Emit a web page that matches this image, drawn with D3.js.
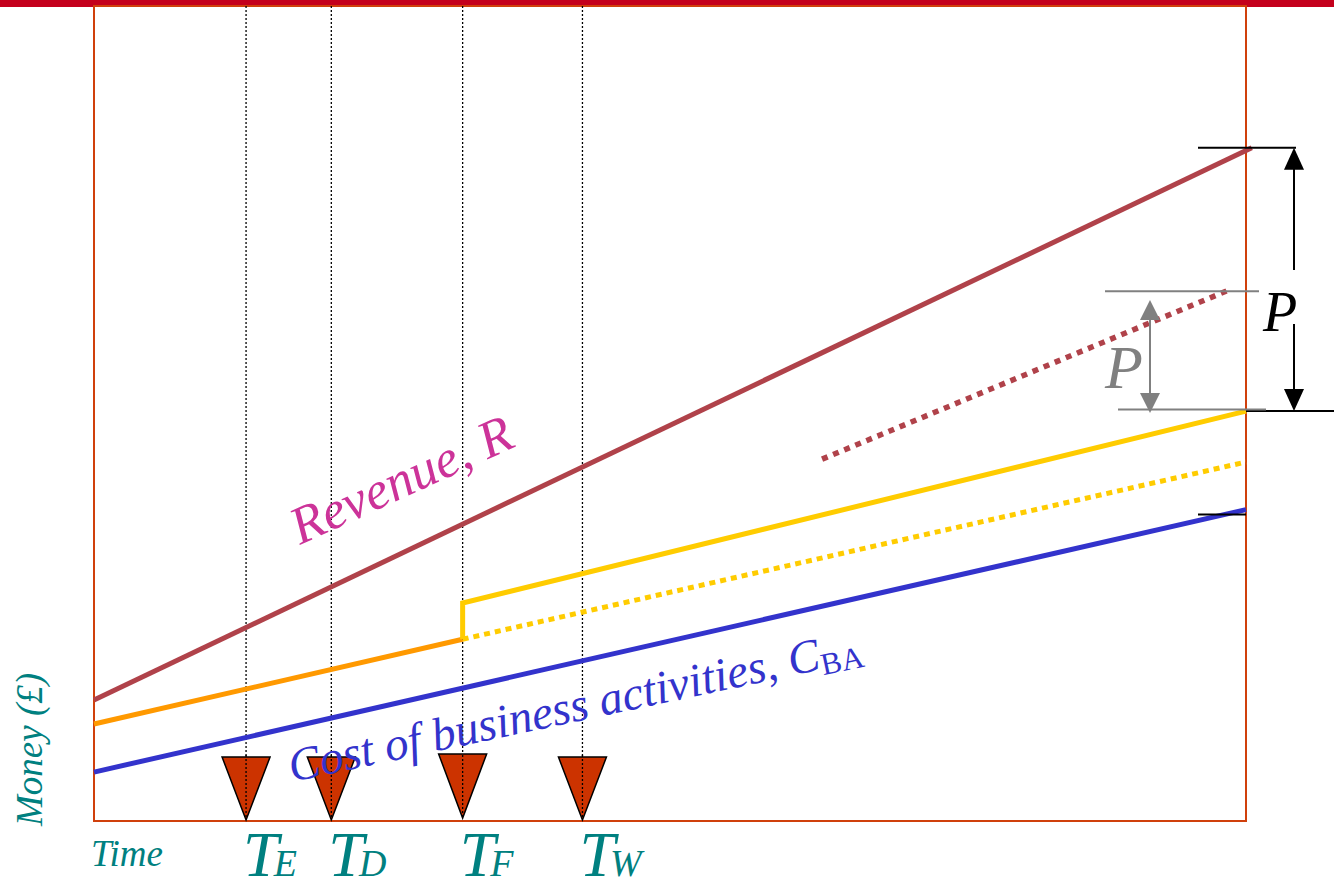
<!DOCTYPE html>
<html><head><meta charset="utf-8">
<script src="https://cdn.jsdelivr.net/npm/d3@7"></script>
<style>html,body{margin:0;padding:0;background:#fff;} svg{display:block;}</style>
</head><body><svg id="c" width="1334" height="881"></svg>
<script>
// ---- data (time 0..100, money 0..100) ----
const revenue      = [[0, 14.85], [100.5, 82.6]];
const revenueNew   = [[63.2, 44.4], [98.6, 65.2]];
const costBefore   = [[0, 11.9], [32.0, 22.3]];
const costAfter    = [[32.0, 22.3], [32.0, 26.75], [100, 50.3]];
const costAfterAlt = [[32.0, 22.3], [100, 44.05]];
const costBA       = [[0, 6.0], [100, 38.2]];
const eventNames   = ["E", "D", "F", "W"];
const eventTimes   = [13.2, 20.6, 32.0, 42.4];
const pBig   = [82.6, 50.3];
const pSmall = [65.0, 50.5];
const lowMark = 37.6;

const svg = d3.select("#c");
const x = d3.scaleLinear().domain([0, 100]).range([94, 1246]);
const y = d3.scaleLinear().domain([0, 100]).range([821, 6]);
const line = d3.line().x(d => x(d[0])).y(d => y(d[1]));
const serif = "'Liberation Serif', 'Times New Roman', serif";
const teal = "#008080";

// top bar
svg.append("rect").attr("x", 0).attr("y", 0).attr("width", 1334).attr("height", 7).attr("fill", "#c4001c");
// frame
svg.append("rect").attr("x", x(0)).attr("y", y(100)).attr("width", x(100) - x(0)).attr("height", y(0) - y(100))
  .attr("fill", "none").attr("stroke", "#d0400c").attr("stroke-width", 2);

// vertical dotted event lines
svg.selectAll(".ev").data(eventTimes).join("line")
  .attr("x1", d => x(d)).attr("x2", d => x(d)).attr("y1", y(100)).attr("y2", y(0) - 3)
  .attr("stroke", "#000").attr("stroke-width", 1.3).attr("stroke-dasharray", "2,2");

// series
svg.append("path").attr("d", line(revenue)).attr("fill", "none").attr("stroke", "#b0424a").attr("stroke-width", 5);
svg.append("path").attr("d", line(revenueNew)).attr("fill", "none").attr("stroke", "#b0424a").attr("stroke-width", 5.5).attr("stroke-dasharray", "6,6");
svg.append("path").attr("d", line(costAfterAlt)).attr("fill", "none").attr("stroke", "#ffcc00").attr("stroke-width", 5).attr("stroke-dasharray", "6,5");
svg.append("path").attr("d", line(costBA)).attr("fill", "none").attr("stroke", "#3333cc").attr("stroke-width", 5);
svg.append("path").attr("d", line(costBefore)).attr("fill", "none").attr("stroke", "#ff9900").attr("stroke-width", 5);
svg.append("path").attr("d", line(costAfter)).attr("fill", "none").attr("stroke", "#ffcc00").attr("stroke-width", 5);

// markers (P)
function hline(x1, x2, yy, color) {
  svg.append("line").attr("x1", x1).attr("x2", x2).attr("y1", yy).attr("y2", yy).attr("stroke", color).attr("stroke-width", 2);
}
function arrowHead(cx, tipY, dir, color, len, w) {
  svg.append("path").attr("d", `M${cx},${tipY} L${cx - w / 2},${tipY + dir * len} L${cx + w / 2},${tipY + dir * len} Z`).attr("fill", color);
}
// black P
hline(1198, 1296, y(pBig[0]), "#000");
hline(x(100), 1334, y(pBig[1]), "#000");
hline(1198, x(100), y(lowMark), "#000");
svg.append("line").attr("x1", 1294).attr("x2", 1294).attr("y1", y(pBig[0]) + 10).attr("y2", 270).attr("stroke", "#000").attr("stroke-width", 2);
svg.append("line").attr("x1", 1294).attr("x2", 1294).attr("y1", 324).attr("y2", y(pBig[1]) - 10).attr("stroke", "#000").attr("stroke-width", 2);
arrowHead(1294, y(pBig[0]), 1, "#000", 22, 20);
arrowHead(1294, y(pBig[1]), -1, "#000", 22, 20);
svg.append("text").attr("x", 1263).attr("y", 331).attr("font-family", serif).attr("font-style", "italic").attr("font-size", 56).attr("fill", "#000").text("P");
// gray P
hline(1105, 1259, y(pSmall[0]), "#808080");
hline(1118, 1266, y(pSmall[1]), "#808080");
svg.append("line").attr("x1", 1150).attr("x2", 1150).attr("y1", 310).attr("y2", 400).attr("stroke", "#808080").attr("stroke-width", 2);
arrowHead(1150, 300, 1, "#808080", 20, 20);
arrowHead(1150, 413, -1, "#808080", 20, 20);
svg.append("text").attr("x", 1105).attr("y", 388).attr("font-family", serif).attr("font-style", "italic").attr("font-size", 62).attr("fill", "#808080").text("P");

// triangles
svg.selectAll(".tri").data(eventTimes).join("path")
  .attr("d", (d, i) => {
    const cx = x(d), top = i === 2 ? 754 : 757, bot = i === 2 ? 818 : 820;
    return `M${cx - 24},${top} L${cx + 24},${top} L${cx},${bot} Z`;
  })
  .attr("fill", "#cc3300").attr("stroke", "#000").attr("stroke-width", 1.5);
// redraw dotted line over triangles
svg.selectAll(".ev2").data(eventTimes).join("line")
  .attr("x1", d => x(d)).attr("x2", d => x(d)).attr("y1", 755).attr("y2", 818)
  .attr("stroke", "#000").attr("stroke-width", 1.3).attr("stroke-dasharray", "2,2");

// event labels
eventNames.forEach((n, i) => {
  const t = svg.append("text").attr("x", x(eventTimes[i]) - 3).attr("y", 876)
    .attr("font-family", serif).attr("font-style", "italic").attr("fill", teal);
  t.append("tspan").attr("font-size", 64).text("T");
  t.append("tspan").attr("font-size", 38).attr("dx", -5).text(n);
});

// axis labels
svg.append("text").attr("x", 91).attr("y", 866).attr("font-family", serif).attr("font-style", "italic").attr("font-size", 37).attr("fill", teal).text("Time");
svg.append("text").attr("transform", "translate(42,826) rotate(-90)").attr("font-family", serif).attr("font-style", "italic").attr("font-size", 37).attr("fill", teal).text("Money (£)");

// series labels
svg.append("text").attr("transform", "translate(300,545) rotate(-24.5)").attr("font-family", serif).attr("font-style", "italic").attr("font-size", 53).attr("fill", "#cc3399").text("Revenue, R");
const cl = svg.append("text").attr("transform", "translate(292,782) rotate(-12)").attr("font-family", serif).attr("font-style", "italic").attr("font-size", 47).attr("fill", "#3333cc");
cl.append("tspan").text("Cost of business activities, C");
cl.append("tspan").attr("font-size", 31).attr("font-style", "normal").attr("dy", 6).text("BA");
</script></body></html>
